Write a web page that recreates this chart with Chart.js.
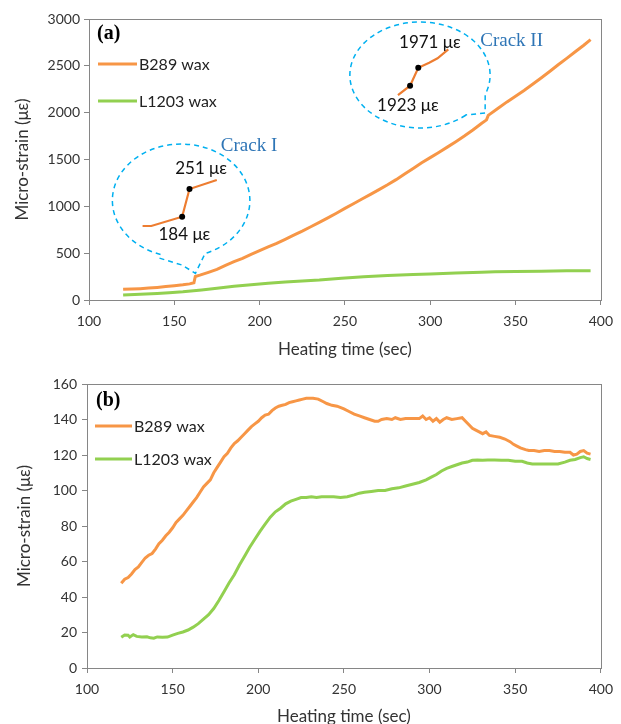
<!DOCTYPE html>
<html lang="en">
<head>
<meta charset="UTF-8">
<title>Micro-strain vs heating time</title>
<script src="https://cdn.jsdelivr.net/npm/chart.js"></script>
<style>
  body { margin: 0; overflow: hidden; background: #fff; }
  canvas { position: absolute; left: 0; }
</style>
</head>
<body>
<canvas id="chartA" width="621" height="362" style="top:0"></canvas>
<canvas id="chartB" width="621" height="380" style="top:362px"></canvas>

<script>
// ---- values ----
const xTickValues = [100, 150, 200, 250, 300, 350, 400];
const yTicksA = [0, 500, 1000, 1500, 2000, 2500, 3000];
const yTicksB = [0, 20, 40, 60, 80, 100, 120, 140, 160];

// (a) total micro-strain
const timeA_B289 = [120,125,130,135,140,145,150,155,159,161.5,162.3,165,170,175,180,185,190,195,200,205,210,215,220,225,230,235,240,245,250,255,260,265,270,275,280,285,290,295,300,305,310,315,320,325,330,333,334,340,345,350,355,360,365,370,375,380,385,390,394];
const strainA_B289 = [114,117,121,127,134,143,152,162,172,184,251,265,295,327,370,409,445,488,528,566,605,648,692,735,782,828,876,926,978,1028,1078,1128,1178,1230,1285,1345,1405,1465,1520,1575,1632,1690,1750,1815,1885,1923,1971,2050,2115,2175,2237,2303,2370,2440,2512,2580,2650,2720,2780];
const timeA_L1203 = [120,130,140,147,155,166,175,185,195,205,215,225,235,248,261,275,290,300,315,330,338,350,365,380,394];
const strainA_L1203 = [53,62,70,78,88,107,125,148,163,178,192,203,213,232,249,262,271,278,288,297,302,305,308,311,313];

// blown-up pieces of the B289 curve shown inside the callouts
const crack1Time = [131.4, 136.5, 154.6, 158.9, 174.9];
const crack1Strain = [790, 790, 889, 1185, 1281];
const crack2Time = [281.1, 288.2, 293, 299.4, 304.3, 310.6];
const crack2Strain = [2188, 2288, 2480, 2534, 2580, 2676];

// (b) micro-strain
const timeB_B289 = [120,122,124,126,128,130,132,134,136,138,140,142,144,146,148,150,152,154,156,158,160,162,164,166,168,170,172,174,176,178,180,182,184,186,188,190,192,194,196,198,200,202,204,206,208,210,212,214,216,218,220,222,224,226,228,232,235,238,240,243,246,250,253,256,259,262,265,268,270,272,275,278,280,283,286,290,294,296,298,300,302,304,306,308,310,313,316,319,321,323,325,327,329,331,333,335,338,341,344,347,349,351,353,356,358,361,364,367,370,373,376,379,382,384,386,388,390,392,394];
const strainB_B289 = [47.7,50,51,53,55.5,57,59.5,62,63.5,64.5,67,70,72,74.5,76.5,79,82,84,86,88.5,91,93.5,96,99,102,104,106,110,113,116,119,121,124,126.5,128,130,132,134,136,137.5,139,141,142.5,143,145,146.5,147.5,148,148.5,149.5,150,150.5,151,151.5,152,152,151.5,150,149,148,147.5,146,144.5,143,142,141,140,139,139,140,140.5,140,141,140,140.5,140.5,140.5,142,140,141,139,140.5,138.5,140,141,140,140.5,141,139,137,135,134,133,132,133,131,130.5,130,129,127.5,126,125,124,123,122.5,122.5,122,122.5,122.5,122,122,121.5,121.5,120,120.5,122,122.5,121,120.5];
const timeB_L1203 = [120,122,124,125,127,129,132,135,137,139,141,144,147,150,153,156,159,162,165,168,171,174,177,180,183,186,189,192,195,198,201,204,207,210,213,216,219,222,225,228,231,234,237,240,244,248,252,256,259,262,266,270,274,278,282,286,290,294,298,301,304,307,310,313,316,319,322,325,328,331,334,338,342,346,350,354,357,360,365,370,375,379,382,385,388,390,392,394];
const strainB_L1203 = [17.3,18.6,18.5,17.5,18.8,17.8,17.5,17.6,17,16.8,17.5,17.3,17.4,18.5,19.5,20.3,21.4,23,25,27.5,30,33.5,38,43,48,52.5,58,63,68,72.5,77,81,85,88,90,92.5,94,95,96,96,96.5,96,96.5,96.5,96.5,96,96.5,97.5,98.5,99,99.5,100,100,101,101.5,102.5,103.5,104.5,106,107.5,109,111,112.5,113.5,114.5,115.5,116,117,117.2,117,117.2,117.2,117,117,116.5,116.5,115.5,115,115,115,115,116,117,117.5,118.5,119,118,117.5];

const ORANGE = '#F79646';
const GREEN = '#92D050';
const AXIS = '#868686';
const FONT = 'Lato, "Open Sans", sans-serif';

const toXY = (xs, ys) => xs.map((x, i) => ({ x: x, y: ys[i] }));

function mainLine(label, xs, ys, color) {
  return { label: label, data: toXY(xs, ys), borderColor: color, borderWidth: 3, pointRadius: 0, inKey: true };
}

function insetLine(xs, ys, dots) {
  return {
    data: toXY(xs, ys), borderColor: '#ED7D31', borderWidth: 2.2,
    pointRadius: xs.map((_, i) => dots.includes(i) ? 3 : 0),
    pointBackgroundColor: '#000', pointBorderWidth: 0
  };
}

// plot frame on all four sides
const framePlugin = {
  id: 'frame',
  afterDatasetsDraw(chart) {
    const { ctx, chartArea: a } = chart;
    ctx.save();
    ctx.strokeStyle = AXIS;
    ctx.lineWidth = 1;
    ctx.strokeRect(Math.round(a.left) + 0.5, Math.round(a.top) + 0.5, Math.round(a.right - a.left), Math.round(a.bottom - a.top));
    ctx.restore();
  }
};

// legend inside the plot + panel tag
const keyPlugin = {
  id: 'key',
  afterDraw(chart, args, o) {
    const ctx = chart.ctx;
    const items = chart.data.datasets.filter(d => d.inKey);
    ctx.save();
    items.forEach((ds, i) => {
      const y = o.rows[i];
      ctx.strokeStyle = ds.borderColor;
      ctx.lineWidth = 3;
      ctx.beginPath();
      ctx.moveTo(o.x, y);
      ctx.lineTo(o.x + o.len, y);
      ctx.stroke();
      ctx.fillStyle = '#222';
      ctx.font = '16px ' + FONT;
      ctx.textBaseline = 'middle';
      ctx.textAlign = 'left';
      ctx.fillText(ds.label, o.x + o.len + 2, y + 1);
    });
    ctx.font = 'bold 20px "Liberation Serif", serif';
    ctx.fillStyle = '#000';
    ctx.textBaseline = 'middle';
    ctx.fillText(o.tag, o.tagX, o.tagY);
    ctx.restore();
  }
};

// dashed speech-bubble callouts and their notes, placed in data units
const calloutPlugin = {
  id: 'callouts',
  beforeDatasetsDraw(chart, args, o) {
    if (!o.bubbles) return;
    const { ctx, scales: { x, y } } = chart;
    ctx.save();
    ctx.strokeStyle = '#00B0F0';
    ctx.lineWidth = 1.5;
    ctx.setLineDash([5, 4]);
    o.bubbles.forEach(b => {
      const cx = x.getPixelForValue(b.cx), cy = y.getPixelForValue(b.cy);
      const rx = x.getPixelForValue(b.cx + b.rx) - cx;
      const ry = cy - y.getPixelForValue(b.cy + b.ry);
      const pts = b.tail.map(p => [x.getPixelForValue(p[0]), y.getPixelForValue(p[1])]);
      const ang = p => Math.atan2((p[1] - cy) / ry, (p[0] - cx) / rx);
      ctx.beginPath();
      ctx.ellipse(cx, cy, rx, ry, 0, ang(pts[pts.length - 1]), ang(pts[0]), false);
      for (let i = 1; i < pts.length; i++) ctx.lineTo(pts[i][0], pts[i][1]);
      ctx.stroke();
    });
    ctx.restore();
  },
  afterDatasetsDraw(chart, args, o) {
    if (!o.notes) return;
    const { ctx, scales: { x, y } } = chart;
    ctx.save();
    ctx.textAlign = 'center';
    ctx.textBaseline = 'middle';
    o.notes.forEach(n => {
      ctx.font = n.serif ? '19px "Liberation Serif", serif' : '17px ' + FONT;
      ctx.fillStyle = n.serif ? '#2E75B6' : '#111';
      ctx.fillText(n.text, x.getPixelForValue(n.x), y.getPixelForValue(n.y));
    });
    ctx.restore();
  }
};

function buildChart(id, p) {
  const tickFont = { family: FONT, size: 14 };
  const titleFont = { family: FONT, size: 17 };
  return new Chart(document.getElementById(id), {
    type: 'line',
    data: { datasets: p.datasets },
    options: {
      responsive: false,
      animation: false,
      layout: { padding: { top: p.top, right: p.right, left: 0, bottom: 0 } },
      elements: { line: { tension: 0 } },
      plugins: {
        legend: { display: false },
        tooltip: { enabled: false },
        key: p.key,
        callouts: p.callouts || {}
      },
      scales: {
        x: {
          type: 'linear', min: 100, max: 400,
          afterBuildTicks: s => { s.ticks = xTickValues.map(v => ({ value: v })); },
          afterFit: s => { s.height = p.xHeight; },
          grid: { drawOnChartArea: false, tickLength: 5, color: AXIS },
          border: { color: AXIS },
          ticks: { font: tickFont, color: '#333', padding: 8, maxRotation: 0, callback: v => String(v) },
          title: { display: true, text: 'Heating time (sec)', font: titleFont, color: '#333', padding: { top: 0, bottom: p.xTitlePad } }
        },
        y: {
          type: 'linear', min: 0, max: p.yMax,
          afterBuildTicks: s => { s.ticks = p.yTicks.map(v => ({ value: v })); },
          afterFit: s => { s.width = p.yWidth; },
          grid: { drawOnChartArea: false, tickLength: 5, color: AXIS },
          border: { color: AXIS },
          ticks: { font: tickFont, color: '#333', padding: p.yTickPad, callback: v => String(v) },
          title: { display: true, text: 'Micro-strain (με)', font: titleFont, color: '#333', padding: { top: p.yTitlePad, bottom: 0 } }
        }
      }
    },
    plugins: [framePlugin, keyPlugin, calloutPlugin]
  });
}

buildChart('chartA', {
  datasets: [
    mainLine('B289 wax', timeA_B289, strainA_B289, ORANGE),
    mainLine('L1203 wax', timeA_L1203, strainA_L1203, GREEN),
    insetLine(crack1Time, crack1Strain, [2, 3]),
    insetLine(crack2Time, crack2Strain, [1, 2])
  ],
  top: 19, right: 14, xHeight: 62, xTitlePad: 2,
  yMax: 3000, yTicks: yTicksA, yWidth: 89, yTickPad: 4, yTitlePad: 12,
  key: { x: 98, len: 39, rows: [64, 101], tag: '(a)', tagX: 97, tagY: 34 },
  callouts: {
    bubbles: [
      { cx: 154, cy: 1062, rx: 40.3, ry: 603,
        tail: [[168.9, 462], [162.4, 285], [154.4, 374], [141.1, 448]] },
      { cx: 294, cy: 2402, rx: 41.1, ry: 566,
        tail: [[332.2, 2194], [332.2, 1996], [320.6, 1975]] }
    ],
    notes: [
      { text: '251 με', x: 165.7, y: 1404 },
      { text: '184 με', x: 155.9, y: 694 },
      { text: '1971 με', x: 299.8, y: 2749 },
      { text: '1923 με', x: 286.9, y: 2074 },
      { text: 'Crack I', x: 193.8, y: 1639, serif: true },
      { text: 'Crack II', x: 347.7, y: 2760, serif: true }
    ]
  }
});

buildChart('chartB', {
  datasets: [
    mainLine('B289 wax', timeB_B289, strainB_B289, ORANGE),
    mainLine('L1203 wax', timeB_L1203, strainB_L1203, GREEN)
  ],
  top: 22, right: 16, xHeight: 74, xTitlePad: 15,
  yMax: 160, yTicks: yTicksB, yWidth: 87, yTickPad: 5, yTitlePad: 14,
  key: { x: 95, len: 37, rows: [64, 97], tag: '(b)', tagX: 96, tagY: 39 }
});
</script>
</body>
</html>
